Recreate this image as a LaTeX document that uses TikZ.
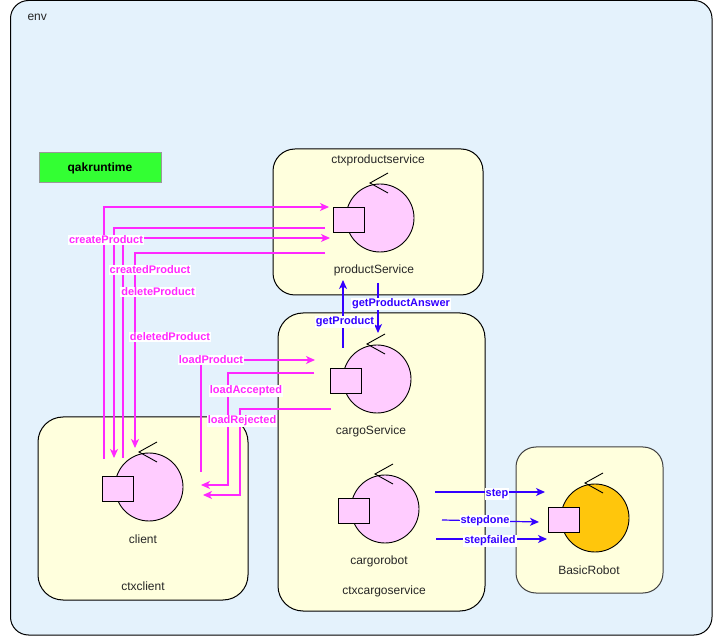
\documentclass[tikz,border=0pt]{standalone}
\usepackage{fontspec}
\setmainfont{Liberation Sans}
\usetikzlibrary{arrows.meta}

\definecolor{envblue}{RGB}{228,242,252}
\definecolor{ctxyellow}{RGB}{255,255,221}
\definecolor{actpink}{RGB}{255,204,255}
\definecolor{robotgold}{RGB}{255,198,12}
\definecolor{rtgreen}{RGB}{51,255,51}
\definecolor{msgmag}{RGB}{255,40,255}
\definecolor{msgblue}{RGB}{51,0,255}

% an actor: circle with a "<" tick on top, a mailbox square and a name below
% #1 name, #2 x, #3 y, #4 fill colour, #5 caption
\newcommand\qactor[5]{%
  \node[actcirc, fill=#4] (#1) at (#2,#3) {};
  \draw[tickline] ({#2+8},{#3-45}) -- ({#2-10},{#3-35}) -- ({#2+8},{#3-25});
  \node[actsq] (#1-sq) at ({#2-31},{#3+1.5}) {};
  \node[nodetxt] (#1-lbl) at ({#2-6},{#3+52}) {#5};
}

\begin{document}
\begin{tikzpicture}[x=1pt, y=-1pt, line width=1pt,
  envbox/.style={draw=black, fill=envblue, rounded corners=18pt, inner sep=0pt},
  ctxbox/.style={draw=black, fill=ctxyellow, rounded corners=22pt, inner sep=0pt},
  actcirc/.style={circle, draw=black, minimum size=68pt, inner sep=0pt, line width=0.9pt},
  actsq/.style={rectangle, draw=black, fill=actpink, minimum width=31pt, minimum height=25pt, inner sep=0pt, line width=0.9pt},
  tickline/.style={draw=black, line width=0.9pt},
  nodetxt/.style={font=\fontsize{12}{14}\selectfont, text=black!85, inner sep=0pt},
  magmsg/.style={draw=msgmag, line width=1.2pt, -{Stealth[length=9pt,width=8pt,inset=2.5pt]}},
  bluemsg/.style={draw=msgblue, line width=1.2pt, -{Stealth[length=9pt,width=8pt,inset=2.5pt]}},
  maglbl/.style={font=\fontsize{11}{13}\selectfont\bfseries, text=msgmag, fill=white, inner sep=1pt},
  bluelbl/.style={font=\fontsize{11}{13}\selectfont\bfseries, text=msgblue, fill=white, inner sep=1pt},
]
\useasboundingbox (0,0) rectangle (713,636);

% environment
\node[envbox, minimum width=701.5pt, minimum height=634.5pt] (env) at (361.25,317.75) {};
\node[nodetxt, anchor=west] (envlbl) at (27,17) {env};

% runtime tag
\node[draw=black!40, fill=rtgreen, minimum width=122pt, minimum height=30pt, inner sep=0pt,
      font=\fontsize{12}{14}\selectfont\bfseries] (rt) at (100,168) {qakruntime};

% contexts
\node[ctxbox, minimum width=210pt, minimum height=146pt] (ctxps) at (378,222) {};
\node[nodetxt] (ctxpslbl) at (378,160) {ctxproductservice};
\node[ctxbox, rounded corners=25pt, minimum width=207pt, minimum height=298pt] (ctxcs) at (381.5,462) {};
\node[nodetxt] (ctxcslbl) at (384,591) {ctxcargoservice};
\node[ctxbox, rounded corners=25pt, minimum width=210pt, minimum height=183pt] (ctxcl) at (143,508.5) {};
\node[nodetxt] (ctxcllbl) at (143,586) {ctxclient};
\node[ctxbox, draw=black!75, rounded corners=20pt, minimum width=147pt, minimum height=146pt] (ctxbr) at (589.5,520) {};

% actors
\qactor{productService}{380}{218}{actpink}{productService}
\qactor{cargoService}{377}{379}{actpink}{cargoService}
\qactor{cargorobot}{385}{509}{actpink}{cargorobot}
\qactor{client}{149}{487}{actpink}{client}
\qactor{basicrobot}{595}{518}{robotgold}{BasicRobot}

% message end points
\coordinate (cp-s) at (104,459);  \coordinate (cp-e) at (329,207);
\coordinate (cdp-s) at (325,228); \coordinate (cdp-e) at (114,458);
\coordinate (dp-s) at (123,458);  \coordinate (dp-e) at (330,238);
\coordinate (ddp-s) at (325,253); \coordinate (ddp-e) at (135,448);
\coordinate (lp-s) at (201,472);  \coordinate (lp-e) at (315,360);
\coordinate (la-s) at (314,373);  \coordinate (la-m) at (228,485); \coordinate (la-e) at (201,485);
\coordinate (lr-s) at (331,409);  \coordinate (lr-m) at (240,495); \coordinate (lr-e) at (203,495);
\coordinate (gp-s) at (343,348);  \coordinate (gp-e) at (343,280);
\coordinate (gpa-s) at (378,283); \coordinate (gpa-e) at (378,333);
\coordinate (st-s) at (435,492);  \coordinate (st-e) at (545,492);
\coordinate (sd-s) at (442,520);  \coordinate (sd-e) at (539,522);
\coordinate (sf-s) at (436,539);  \coordinate (sf-e) at (547,539);

% client <-> productService
\draw[magmsg] (cp-s) |- (cp-e);
\draw[magmsg] (cdp-s) -| (cdp-e);
\draw[magmsg] (dp-s) |- (dp-e);
\draw[magmsg] (ddp-s) -| (ddp-e);

% client <-> cargoService
\draw[magmsg] (lp-s) |- (lp-e);
\draw[magmsg] (la-s) -| (la-m) -- (la-e);
\draw[magmsg] (lr-s) -| (lr-m) -- (lr-e);

% cargoService <-> productService
\draw[bluemsg] (gp-s) -- (gp-e);
\draw[bluemsg] (gpa-s) -- (gpa-e);

% cargorobot -> BasicRobot
\draw[bluemsg] (st-s) -- (st-e);
\draw[bluemsg] (sd-s) -- (sd-e);
\draw[bluemsg] (sf-s) -- (sf-e);

% message labels
\node[maglbl] (l-cp) at (106,240) {createProduct};
\node[maglbl] (l-cdp) at (150,270) {createdProduct};
\node[maglbl] (l-dp) at (158,292) {deleteProduct};
\node[maglbl] (l-ddp) at (170,337) {deletedProduct};
\node[maglbl] (l-lp) at (211,360) {loadProduct};
\node[maglbl] (l-la) at (246,391) {loadAccepted};
\node[maglbl] (l-lr) at (242,421) {loadRejected};
\node[bluelbl] (l-gp) at (345,322) {getProduct};
\node[bluelbl] (l-gpa) at (401,304) {getProductAnswer};
\node[bluelbl] (l-st) at (497,494) {step};
\node[bluelbl] (l-sd) at (485,521) {stepdone};
\node[bluelbl] (l-sf) at (490,541) {stepfailed};
\end{tikzpicture}
\end{document}
